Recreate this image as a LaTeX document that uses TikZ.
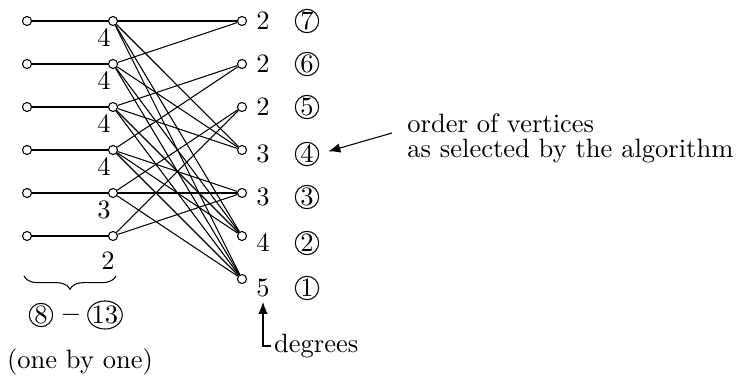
\documentclass[tikz,border=0pt]{standalone}
\usepackage{amsmath, amssymb}
\usetikzlibrary{decorations.pathreplacing, arrows.meta, shapes.geometric}

\tikzset{
  vtx/.style={circle, draw, fill=white, inner sep=0pt, minimum size=3.4pt},
  circnum/.style={circle, draw, inner sep=0pt, minimum size=8.8pt},
  tip/.style={-{Latex[length=4.5pt, width=3.6pt]}}
}

\begin{document}
\begin{tikzpicture}[x=0.377pt, y=-0.377pt]
    \useasboundingbox (0,0) rectangle (738,381);
    % 顶点
    \foreach \i in {1,...,6} {
        \node[vtx] (l\i) at (27, {21+43*(\i-1)}) {};
        \node[vtx] (m\i) at (113, {21+43*(\i-1)}) {};
    }
    \foreach \i in {1,...,7}
        \node[vtx] (r\i) at (242, {21+43*(\i-1)}) {};
    % 边
    \foreach \i in {1,...,6}
        \draw (l\i) -- (m\i);
    \foreach \a/\b in {1/1,1/4,1/6,1/7,2/1,2/4,2/6,2/7,3/2,3/4,3/6,3/7,
                       4/2,4/5,4/6,4/7,5/3,5/5,5/7,6/3,6/5}
        \draw (m\a) -- (r\b);
    % 度数
    \foreach \i/\d in {1/4,2/4,3/4,4/4,5/3}
        \node (dm\i) at (104, {38+43*(\i-1)}) {$\d$};
    \node (dm6) at (108,261) {$2$};
    \foreach \i/\d/\y/\k in {1/2/21/7, 2/2/64/6, 3/2/107/5, 4/3/154/4,
                             5/3/197/3, 6/4/243/2, 7/5/288/1} {
        \node (dr\i) at (263,\y) {$\d$};
        \node[circnum] (c\k) at (307,\y) {\k};
    }
    % 左边叶子
    \draw[decorate, decoration={brace, mirror, amplitude=5pt}] (24,276) -- (116,276);
    \node[circnum] (c8) at (41,315) {8};
    \node (dash) at (71,315) {$-$};
    \node[ellipse, draw, inner xsep=-0.4pt, inner ysep=0.3pt] (c13) at (105,315) {13};
    \node (oneby) at (80,362) {(one by one)};
    % 说明
    \node[anchor=base west] (ord1) at (398,132) {order of vertices};
    \node[anchor=base west] (ord2) at (398,158) {as selected by the algorithm};
    \coordinate (ordarr) at (392,133);
    \draw[tip, shorten >=3.6pt] (ordarr) -- (c4.east);
    \node[anchor=west, inner sep=1pt] (deg) at (271,346) {degrees};
    \draw[tip] (deg.west) -| ([yshift=1.5pt]dr7.south);
\end{tikzpicture}
\end{document}
